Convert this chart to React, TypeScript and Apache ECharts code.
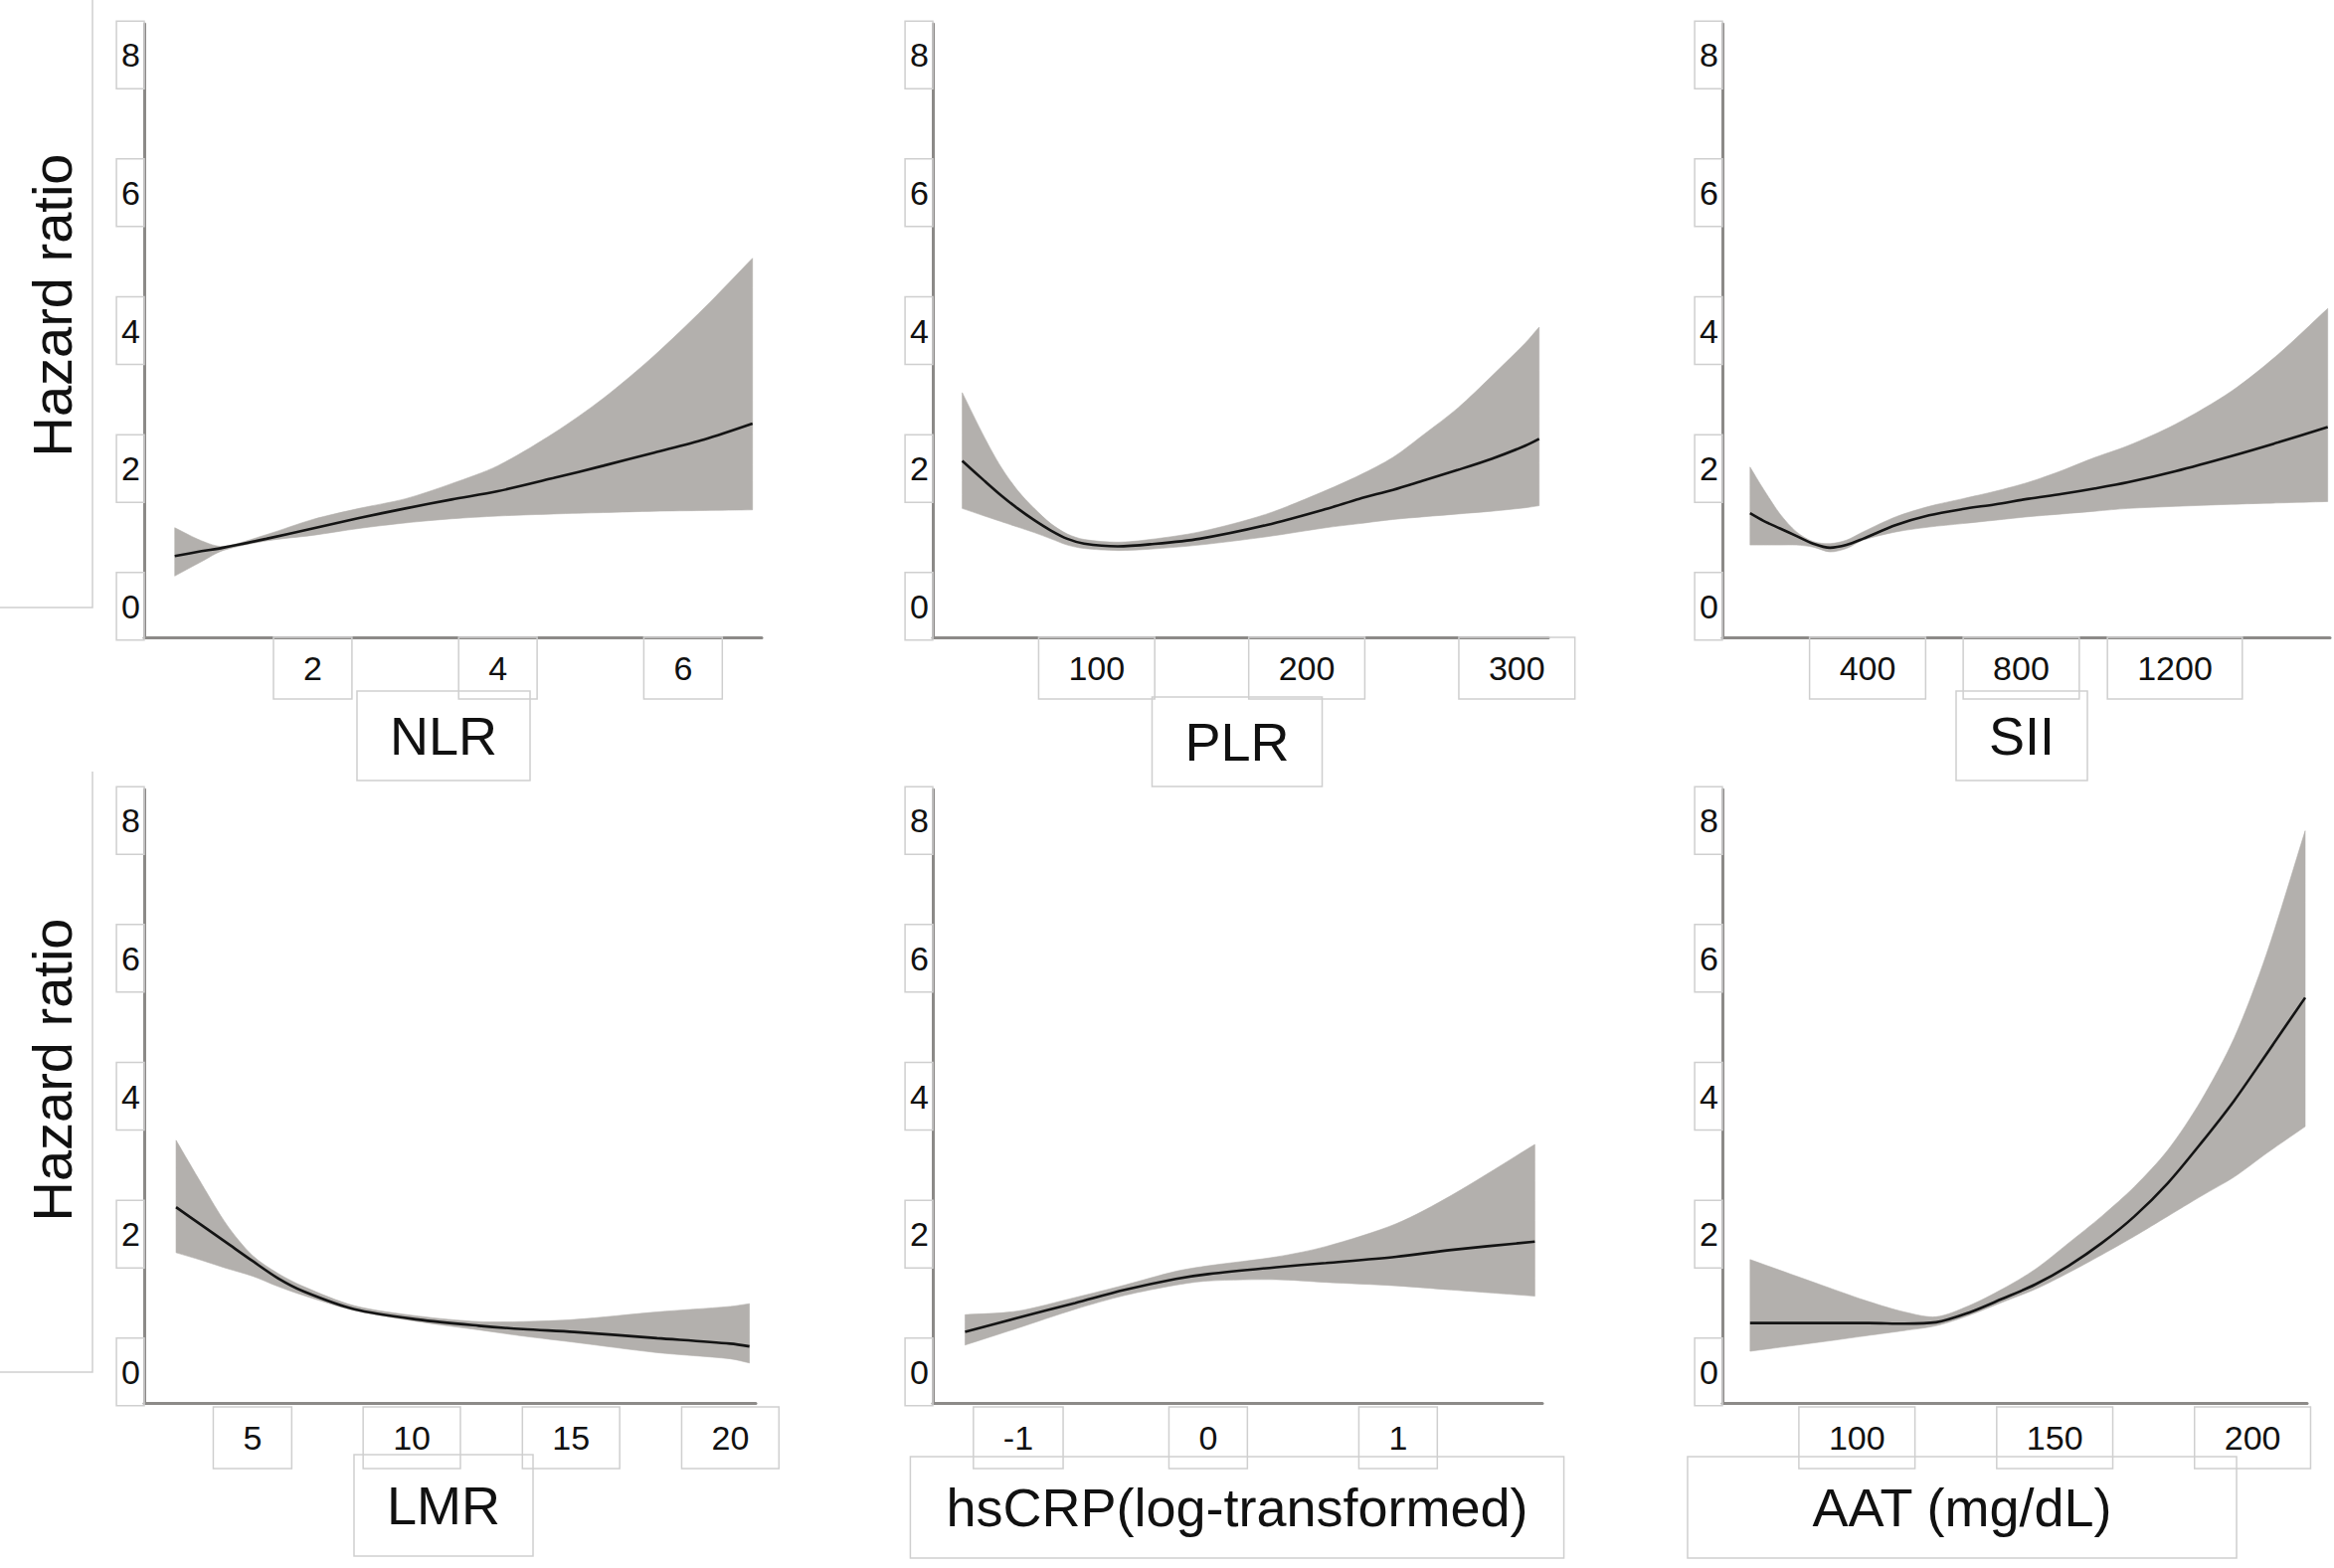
import React, { useEffect, useRef } from "react";
import * as echarts from "echarts";

// ---------- data ----------
const yTicks = [0, 2, 4, 6, 8];

const nlrX = [0.51, 0.8, 1.03, 1.5, 2.0, 2.5, 3.0, 3.5, 4.0, 4.6, 5.14, 5.69, 6.23, 6.75];
const nlrHR = [0.73, 0.8, 0.85, 0.98, 1.13, 1.28, 1.42, 1.55, 1.67, 1.86, 2.04, 2.23, 2.42, 2.65];
const nlrUpper = [1.14, 0.95, 0.87, 1.04, 1.26, 1.42, 1.56, 1.78, 2.04, 2.51, 3.02, 3.64, 4.33, 5.05];
const nlrLower = [0.44, 0.65, 0.81, 0.95, 1.03, 1.13, 1.21, 1.27, 1.31, 1.34, 1.36, 1.38, 1.39, 1.4];
const nlrTicks = [2, 4, 6];

const plrX = [36, 46.6, 54.5, 62.4, 70.3, 78.2, 86, 94, 110, 125.5, 149, 181, 209, 225, 241, 256, 272, 288, 304, 310.6];
const plrHR = [2.11, 1.82, 1.61, 1.42, 1.25, 1.1, 0.98, 0.91, 0.87, 0.9, 0.98, 1.18, 1.41, 1.56, 1.69, 1.83, 1.98, 2.14, 2.33, 2.43];
const plrUpper = [3.1, 2.45, 2.02, 1.68, 1.42, 1.2, 1.05, 0.97, 0.93, 0.97, 1.08, 1.34, 1.68, 1.9, 2.16, 2.5, 2.88, 3.34, 3.82, 4.05];
const plrLower = [1.42, 1.31, 1.23, 1.15, 1.07, 0.98, 0.89, 0.84, 0.81, 0.83, 0.89, 1.01, 1.14, 1.2, 1.26, 1.3, 1.34, 1.38, 1.43, 1.46];
const plrTicks = [100, 200, 300];

const siiX = [94, 129, 172, 215, 258, 302, 345, 388, 474, 560, 647, 733, 819, 906, 992, 1078, 1201, 1347, 1470, 1598];
const siiHR = [1.35, 1.24, 1.13, 1.02, 0.91, 0.85, 0.89, 0.98, 1.18, 1.32, 1.41, 1.48, 1.56, 1.63, 1.71, 1.8, 1.96, 2.18, 2.38, 2.6];
const siiUpper = [2.02, 1.7, 1.34, 1.08, 0.94, 0.91, 0.96, 1.08, 1.3, 1.45, 1.56, 1.67, 1.8, 1.97, 2.16, 2.33, 2.64, 3.12, 3.66, 4.32];
const siiLower = [0.89, 0.89, 0.89, 0.89, 0.86, 0.79, 0.84, 0.96, 1.08, 1.15, 1.2, 1.25, 1.3, 1.34, 1.38, 1.42, 1.45, 1.48, 1.5, 1.52];
const siiTicks = [400, 800, 1200];

const lmrX = [2.6, 3.4, 4.2, 5.0, 5.8, 6.6, 8.2, 10.2, 12.1, 13.5, 15.1, 17.7, 20.0, 20.6];
const lmrHR = [2.39, 2.13, 1.87, 1.61, 1.36, 1.17, 0.91, 0.76, 0.67, 0.62, 0.58, 0.49, 0.41, 0.37];
const lmrUpper = [3.36, 2.73, 2.13, 1.69, 1.43, 1.24, 0.96, 0.81, 0.73, 0.73, 0.76, 0.87, 0.95, 0.99];
const lmrLower = [1.73, 1.62, 1.5, 1.39, 1.24, 1.11, 0.89, 0.73, 0.61, 0.52, 0.43, 0.28, 0.19, 0.13];
const lmrTicks = [5, 10, 15, 20];

const crpX = [-1.28, -1.01, -0.7, -0.44, -0.17, 0, 0.36, 0.62, 0.99, 1.28, 1.72];
const crpHR = [0.58, 0.78, 1.0, 1.19, 1.35, 1.42, 1.52, 1.58, 1.67, 1.77, 1.89];
const crpUpper = [0.83, 0.88, 1.08, 1.26, 1.46, 1.54, 1.67, 1.82, 2.15, 2.56, 3.3];
const crpLower = [0.39, 0.63, 0.91, 1.11, 1.26, 1.32, 1.34, 1.3, 1.25, 1.19, 1.1];
const crpTicks = [-1, 0, 1];

const aatX = [73, 93, 103, 112, 120, 128.3, 136.7, 145.1, 153.5, 161.9, 170.2, 178.6, 187, 195.4, 203.5, 213.3];
const aatHR = [0.71, 0.71, 0.71, 0.7, 0.72, 0.86, 1.06, 1.27, 1.54, 1.87, 2.26, 2.74, 3.32, 3.94, 4.61, 5.43];
const aatUpper = [1.63, 1.22, 1.02, 0.87, 0.8, 0.96, 1.2, 1.49, 1.87, 2.26, 2.69, 3.22, 3.94, 4.85, 6.06, 7.85];
const aatLower = [0.3, 0.45, 0.53, 0.6, 0.67, 0.82, 1.01, 1.2, 1.44, 1.7, 1.97, 2.26, 2.55, 2.83, 3.17, 3.56];
const aatTicks = [100, 150, 200];

const titles = ["NLR", "PLR", "SII", "LMR", "hsCRP(log-transformed)", "AAT (mg/dL)"];
const yTitle = "Hazard ratio";

// ---------- layout / styles ----------
const FONT = "'Liberation Sans', Arial, Helvetica, sans-serif";
const BAND = "#b3b0ad";
const AXIS = "#8c8a88";
const BOX = "#cfcfcf";
const TEXT = "#111111";
const SMOOTH = 0.3;

const panels = [
  { x: nlrX, hr: nlrHR, up: nlrUpper, lo: nlrLower, ticks: nlrTicks, min: 0.18, max: 6.85, left: 145, width: 621, top: 24, row: 0 },
  { x: plrX, hr: plrHR, up: plrUpper, lo: plrLower, ticks: plrTicks, min: 22, max: 315, left: 938, width: 619, top: 24, row: 0 },
  { x: siiX, hr: siiHR, up: siiUpper, lo: siiLower, ticks: siiTicks, min: 22, max: 1604, left: 1732, width: 611, top: 24, row: 0 },
  { x: lmrX, hr: lmrHR, up: lmrUpper, lo: lmrLower, ticks: lmrTicks, min: 1.6, max: 20.8, left: 145, width: 615, top: 794, row: 1 },
  { x: crpX, hr: crpHR, up: crpUpper, lo: crpLower, ticks: crpTicks, min: -1.45, max: 1.76, left: 938, width: 613, top: 794, row: 1 },
  { x: aatX, hr: aatHR, up: aatUpper, lo: aatLower, ticks: aatTicks, min: 66, max: 213.8, left: 1732, width: 588, top: 794, row: 1 },
];
const GRID_H = 617;

const titleBoxes = [
  { cx: 446, cy: 740, padH: 33, padV: 18 },
  { cx: 1244, cy: 746, padH: 33, padV: 18 },
  { cx: 2033, cy: 740, padH: 33, padV: 18 },
  { cx: 446, cy: 1514, padH: 33, padV: 24 },
  { cx: 1244, cy: 1516, padH: 36, padV: 24 },
  { cx: 1973, cy: 1516, padH: 125, padV: 24 },
];

function buildOption() {
  const grid: any[] = [];
  const xAxis: any[] = [];
  const yAxis: any[] = [];
  const series: any[] = [];

  panels.forEach((p, i) => {
    grid.push({ left: p.left, top: p.top, width: p.width, height: GRID_H, containLabel: false });
    xAxis.push({
      type: "value",
      gridIndex: i,
      min: p.min,
      max: p.max,
      z: 4,
      axisLine: { show: true, onZero: false, lineStyle: { color: AXIS, width: 3 } },
      axisTick: { show: false },
      splitLine: { show: false },
      axisLabel: {
        customValues: p.ticks,
        formatter: (v: number) => String(v),
        fontSize: 34,
        fontFamily: FONT,
        color: TEXT,
        margin: p.row === 0 ? 0 : 4,
        lineHeight: 34,
        padding: [14, 30, 14, 30],
        borderColor: BOX,
        borderWidth: 1.5,
      },
    });
    yAxis.push({
      type: "value",
      gridIndex: i,
      min: -0.45,
      max: 8.45,
      z: 4,
      axisLine: { show: true, onZero: false, lineStyle: { color: AXIS, width: 3 } },
      axisTick: { show: false },
      splitLine: { show: false },
      axisLabel: {
        customValues: yTicks,
        formatter: (v: number) => String(v),
        fontSize: 34,
        fontFamily: FONT,
        color: TEXT,
        margin: 0,
        lineHeight: 34,
        padding: [17, 4, 17, 5],
        borderColor: BOX,
        borderWidth: 1.5,
      },
    });

    // confidence band: one closed polygon through upper (left→right) and lower (right→left)
    series.push({
      type: "custom",
      xAxisIndex: i,
      yAxisIndex: i,
      silent: true,
      z: 2,
      encode: { x: 0, y: [1, 2] },
      data: p.x.map((v, j) => [v, p.lo[j], p.up[j]]),
      renderItem: (params: any, api: any) => {
        if (params.dataIndex !== 0) return null;
        const n = p.x.length;
        const upPts = p.x.map((v, j) => api.coord([v, p.up[j]]));
        const loPts = p.x.map((v, j) => api.coord([v, p.lo[j]])).reverse();
        // corners are repeated so the end edges stay straight while the curves are smoothed
        const pts: number[][] = [];
        upPts.forEach((pt: number[], j: number) => {
          pts.push(pt);
          if (j === 0 || j === n - 1) pts.push(pt);
        });
        loPts.forEach((pt: number[], j: number) => {
          pts.push(pt);
          if (j === 0 || j === n - 1) pts.push(pt);
        });
        return {
          type: "polygon",
          shape: { points: pts, smooth: SMOOTH },
          style: { fill: BAND, stroke: BAND, lineWidth: 0.6 },
        };
      },
    });
    series.push({
      type: "line",
      xAxisIndex: i,
      yAxisIndex: i,
      symbol: "none",
      smooth: SMOOTH,
      silent: true,
      z: 3,
      data: p.x.map((v, j) => [v, p.hr[j]]),
      lineStyle: { width: 2.6, color: "#141414" },
    });
  });

  const graphic: any[] = [];
  titleBoxes.forEach((b, i) => {
    graphic.push({
      type: "text",
      x: b.cx,
      y: b.cy,
      z: 10,
      style: {
        text: titles[i],
        font: `54px ${FONT}`,
        fill: TEXT,
        align: "center",
        verticalAlign: "middle",
        lineHeight: 54,
        padding: [b.padV, b.padH, b.padV, b.padH],
        borderColor: BOX,
        borderWidth: 1.5,
      },
    });
  });
  [307, 1076].forEach((cy) => {
    graphic.push({
      type: "text",
      x: 52,
      y: cy,
      rotation: Math.PI / 2,
      z: 10,
      style: {
        text: yTitle,
        font: `56px ${FONT}`,
        fill: TEXT,
        align: "center",
        verticalAlign: "middle",
      },
    });
  });
  graphic.push({
    type: "polyline",
    z: 1,
    shape: { points: [[93, 0], [93, 611], [0, 611]] },
    style: { stroke: BOX, lineWidth: 1.5, fill: "none" },
  });
  graphic.push({
    type: "polyline",
    z: 1,
    shape: { points: [[93, 776], [93, 1380], [0, 1380]] },
    style: { stroke: BOX, lineWidth: 1.5, fill: "none" },
  });

  return {
    animation: false,
    backgroundColor: "#ffffff",
    grid,
    xAxis,
    yAxis,
    series,
    graphic,
  };
}

export default function App() {
  const ref = useRef<HTMLDivElement>(null);
  useEffect(() => {
    if (!ref.current) return;
    const chart = echarts.init(ref.current, undefined, { renderer: "svg" });
    chart.setOption(buildOption() as any);
    return () => chart.dispose();
  }, []);
  return (
    <div
      ref={ref}
      style={{ position: "fixed", left: 0, top: 0, width: 2347, height: 1577, background: "#fff" }}
    />
  );
}
